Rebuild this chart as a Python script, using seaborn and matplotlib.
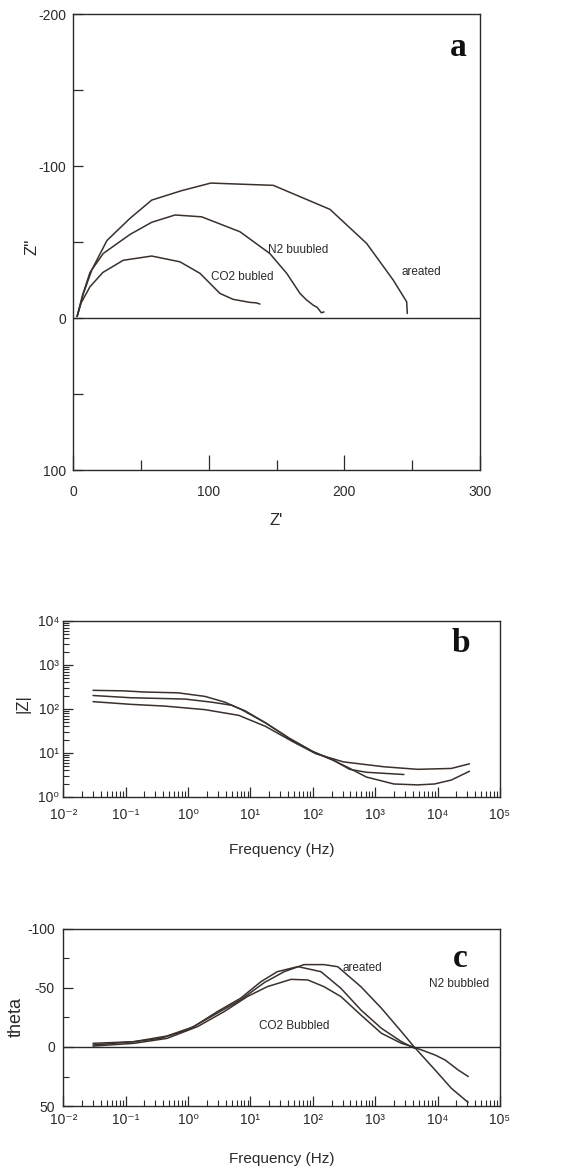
import numpy as np
import pandas as pd
import matplotlib
matplotlib.use("Agg")
import matplotlib.pyplot as plt
import seaborn as sns
from matplotlib.ticker import MultipleLocator, FixedLocator, NullFormatter, FuncFormatter

# ---------------- data: panel a (Nyquist) ----------------
aer_zr = [3, 7.6, 14, 25, 42, 58, 80, 101.5, 147.6, 189.4, 216.4, 236, 245.9, 246.4]
aer_zi = [-1, -16, -32, -51, -65.6, -77.6, -83.8, -88.8, -87.3, -71.5, -49.1, -25, -10.7, -3]
n2_zr = [3, 7, 12.5, 22.3, 42, 58, 75.2, 94.8, 123, 145, 157.5, 167.3, 172, 177, 180, 183, 185]
n2_zi = [-1, -15, -30, -42.5, -55, -63, -67.8, -66.6, -56.8, -42.5, -29.4, -16.2, -12, -8.5, -7, -3.5, -4]
co2_zr = [3, 6, 12.5, 22, 37, 58, 78.8, 93.6, 103.4, 108.3, 118, 130.4, 135, 137.8]
co2_zi = [-1, -10, -20.6, -30, -38, -40.8, -37, -29.4, -20.6, -16.2, -12.3, -10.3, -10, -9.2]

# ---------------- data: panel b (|Z| Bode) ----------------
aer_fb = [0.03, 0.093, 0.2, 0.69, 1.86, 3.9, 7.2, 17.4, 41.7, 100, 209, 347, 724, 1995, 4786, 8913, 16600, 32360]
aer_mod = [262, 255, 240, 230, 191, 141, 95.5, 47.9, 21.4, 10.5, 6.8, 4.8, 2.8, 1.95, 1.86, 1.95, 2.4, 3.8]
n2_fb = [0.03, 0.12, 0.89, 2.4, 5.0, 8.3, 17.4, 41.7, 100, 209, 389, 724, 2884]
n2_mod = [200, 178, 166, 141, 120, 89, 47.9, 21.4, 10.7, 6.9, 4.2, 3.6, 3.2]
co2_fb = [0.03, 0.12, 0.42, 1.86, 6.5, 17.4, 47.9, 112, 309, 1380, 4786, 16600, 32360]
co2_mod = [145, 126, 115, 95.5, 70.8, 39.8, 17.8, 9.5, 6.2, 4.8, 4.2, 4.4, 5.6]

# ---------------- data: panel c (phase Bode) ----------------
aer_fc = [0.03, 0.135, 0.36, 0.98, 2.6, 6.9, 16.6, 34.7, 72.4, 151, 251, 589, 1259, 2630, 4266, 9120, 16600, 30900]
aer_th = [-3.1, -4.5, -7.3, -14.4, -27.1, -39.8, -54.5, -63.8, -69.8, -69.8, -68, -51.1, -32.8, -13, 0.3, 19.5, 35, 47]
n2_fc = [0.03, 0.135, 0.46, 1.23, 2.95, 6.9, 14.8, 26.9, 57.5, 135, 282, 589, 1259, 2630, 4266]
n2_th = [-1.7, -4.5, -9.3, -17.2, -30, -41.2, -55.4, -63.8, -68.1, -63.8, -49.7, -31.4, -15.8, -4.5, 1.1]
co2_fc = [0.03, 0.135, 0.46, 1.41, 3.8, 8.9, 18.6, 44.7, 83, 151, 282, 589, 1259, 2630, 4266, 9120, 13180, 21380, 30900]
co2_th = [-0.8, -3.1, -7.3, -17.2, -30, -42.7, -51.1, -57.3, -56.8, -51.1, -42.7, -27.1, -11.6, -3.1, 0.3, 6.8, 11, 19.5, 25]

a_yticks = [-200, -100, 0, 100]
a_xticks = [0, 100, 200, 300]
c_yticks = [-100, -50, 0, 50]
freq_decades = [-2, -1, 0, 1, 2, 3, 4, 5]
mod_decades = [0, 1, 2, 3, 4]

LINE = "#3a302c"
INK = "#2a2a2a"
SUP = str.maketrans("-0123456789", "⁻⁰¹²³⁴⁵⁶⁷⁸⁹")


def frame(name, xs, ys, xn, yn):
    return pd.DataFrame({xn: xs, yn: ys, "series": name})


df_a = pd.concat([frame("areated", aer_zr, aer_zi, "zr", "zi"),
                  frame("N2", n2_zr, n2_zi, "zr", "zi"),
                  frame("CO2", co2_zr, co2_zi, "zr", "zi")], ignore_index=True)
df_b = pd.concat([frame("areated", aer_fb, aer_mod, "f", "mod"),
                  frame("N2", n2_fb, n2_mod, "f", "mod"),
                  frame("CO2", co2_fb, co2_mod, "f", "mod")], ignore_index=True)
df_c = pd.concat([frame("areated", aer_fc, aer_th, "f", "th"),
                  frame("N2", n2_fc, n2_th, "f", "th"),
                  frame("CO2", co2_fc, co2_th, "f", "th")], ignore_index=True)
pal = {"areated": LINE, "N2": LINE, "CO2": LINE}

sns.set_theme(style="ticks")
plt.rcParams['font.family'] = ['Liberation Sans', 'DejaVu Sans']
plt.rcParams['axes.unicode_minus'] = False
plt.rcParams['axes.edgecolor'] = INK
plt.rcParams['axes.linewidth'] = 1.0
plt.rcParams['xtick.color'] = INK
plt.rcParams['ytick.color'] = INK

fig = plt.figure(figsize=(5.87, 11.71), dpi=100)
ax_a = fig.add_axes([0.1244, 0.5986, 0.6934, 0.3894])
ax_b = fig.add_axes([0.1078, 0.3196, 0.744, 0.1503])
ax_c = fig.add_axes([0.1078, 0.0555, 0.744, 0.1512])

TICK_FS = 10
LAB_FS = 11
CURVE_FS = 8.5

# ---- panel a ----
sns.lineplot(data=df_a, x="zr", y="zi", hue="series", palette=pal, sort=False,
             estimator=None, legend=False, lw=1.1, ax=ax_a)
ax_a.axhline(0, color=INK, lw=1.0)
ax_a.set_xlim(0, 300)
ax_a.set_ylim(100, -200)
ax_a.xaxis.set_major_locator(FixedLocator(a_xticks))
ax_a.xaxis.set_minor_locator(MultipleLocator(50))
ax_a.yaxis.set_major_locator(FixedLocator(a_yticks))
ax_a.yaxis.set_minor_locator(MultipleLocator(50))
ax_a.tick_params(axis="x", which="major", direction="in", length=11, width=0.9, labelsize=TICK_FS, pad=11)
ax_a.tick_params(axis="x", which="minor", direction="in", length=7, width=0.9)
ax_a.tick_params(axis="y", which="both", direction="in", length=7, width=0.9, labelsize=TICK_FS, pad=5)
ax_a.set_xlabel("Z'", fontsize=12, color=INK)
ax_a.set_ylabel("Z''", fontsize=12, color=INK)
ax_a.xaxis.set_label_coords(0.5, -0.094)
ax_a.yaxis.set_label_coords(-0.083, 0.49)
ax_a.text(101.7, -27, "CO2 bubled", fontsize=CURVE_FS, color=INK, va="center", ha="left")
ax_a.text(144, -45, "N2 buubled", fontsize=CURVE_FS, color=INK, va="center", ha="left")
ax_a.text(242, -30, "areated", fontsize=CURVE_FS, color=INK, va="center", ha="left")
ax_a.text(284, -178, "a", fontsize=24, fontweight="bold", family="Liberation Serif",
          color="#111111", ha="center", va="center")


# ---- shared log axis setup (small raised exponents) ----
def pow10(v, pos):
    return "10" + str(int(round(np.log10(v)))).translate(SUP)


def log_axis(axis, decades):
    majors = [10.0 ** d for d in decades]
    minors = [m * 10.0 ** d for d in decades[:-1] for m in range(2, 10)]
    axis.set_major_locator(FixedLocator(majors))
    axis.set_minor_locator(FixedLocator(minors))
    axis.set_major_formatter(FuncFormatter(pow10))
    axis.set_minor_formatter(NullFormatter())


# ---- panel b ----
sns.lineplot(data=df_b, x="f", y="mod", hue="series", palette=pal, sort=False,
             estimator=None, legend=False, lw=1.1, ax=ax_b)
ax_b.set_xscale("log")
ax_b.set_yscale("log")
ax_b.set_xlim(1e-2, 1e5)
ax_b.set_ylim(1, 1e4)
log_axis(ax_b.xaxis, freq_decades)
log_axis(ax_b.yaxis, mod_decades)
ax_b.tick_params(axis="both", which="major", direction="in", length=7, width=0.9, labelsize=TICK_FS)
ax_b.tick_params(axis="both", which="minor", direction="in", length=4.5, width=0.8)
ax_b.tick_params(axis="x", which="major", pad=8)
ax_b.tick_params(axis="y", which="major", pad=3)
ax_b.set_xlabel("Frequency (Hz)", fontsize=LAB_FS, color=INK)
ax_b.set_ylabel("|Z|", fontsize=12, color=INK)
ax_b.xaxis.set_label_coords(0.5, -0.26)
ax_b.yaxis.set_label_coords(-0.074, 0.53)
ax_b.text(24000, 3000, "b", fontsize=24, fontweight="bold", family="Liberation Serif",
          color="#111111", ha="center", va="center")

# ---- panel c ----
sns.lineplot(data=df_c, x="f", y="th", hue="series", palette=pal, sort=False,
             estimator=None, legend=False, lw=1.1, ax=ax_c)
ax_c.axhline(0, color=INK, lw=1.0)
ax_c.set_xscale("log")
ax_c.set_xlim(1e-2, 1e5)
ax_c.set_ylim(50, -100)
log_axis(ax_c.xaxis, freq_decades)
ax_c.yaxis.set_major_locator(FixedLocator(c_yticks))
ax_c.yaxis.set_minor_locator(MultipleLocator(25))
ax_c.tick_params(axis="both", which="major", direction="in", length=7, width=0.9, labelsize=TICK_FS)
ax_c.tick_params(axis="both", which="minor", direction="in", length=4.5, width=0.8)
ax_c.tick_params(axis="x", which="major", pad=5)
ax_c.tick_params(axis="y", which="major", pad=6)
ax_c.set_xlabel("Frequency (Hz)", fontsize=LAB_FS, color=INK)
ax_c.set_ylabel("theta", fontsize=13, color=INK)
ax_c.xaxis.set_label_coords(0.5, -0.26)
ax_c.yaxis.set_label_coords(-0.088, 0.50)
ax_c.text(300, -66.7, "areated", fontsize=CURVE_FS, color=INK, va="center", ha="left")
ax_c.text(7200, -53, "N2 bubbled", fontsize=CURVE_FS, color=INK, va="center", ha="left")
ax_c.text(13.8, -17.8, "CO2 Bubbled", fontsize=CURVE_FS, color=INK, va="center", ha="left")
ax_c.text(23400, -75, "c", fontsize=24, fontweight="bold", family="Liberation Serif",
          color="#111111", ha="center", va="center")

for ax in (ax_a, ax_b, ax_c):
    ax.tick_params(top=False, right=False, which="both")
    for s in ax.spines.values():
        s.set_visible(True)
        s.set_color(INK)

fig.savefig("out.png", dpi=100)
